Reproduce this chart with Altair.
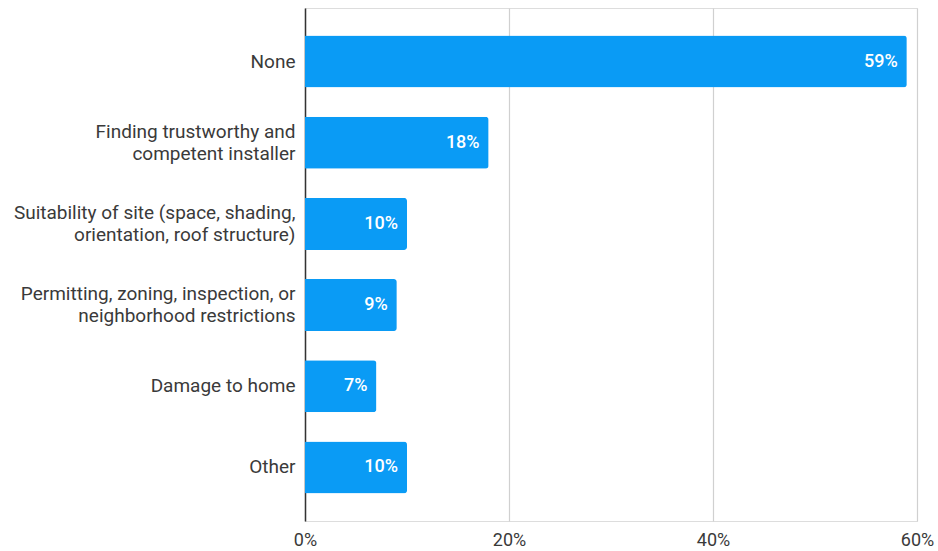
import altair as alt
import pandas as pd

categories = [
    "None",
    "Finding trustworthy and|competent installer",
    "Suitability of site (space, shading,|orientation, roof structure)",
    "Permitting, zoning, inspection, or|neighborhood restrictions",
    "Damage to home",
    "Other",
]
values = [0.59, 0.18, 0.10, 0.09, 0.07, 0.10]
labels = ["59%", "18%", "10%", "9%", "7%", "10%"]

df = pd.DataFrame({"cat": categories, "val": values, "lab": labels})

FONT = "Roboto"
BLUE = "#0a9bf5"

y_enc = alt.Y(
    "cat:N",
    sort=categories,
    title=None,
    scale=alt.Scale(paddingInner=0.36, paddingOuter=0.34),
    axis=alt.Axis(
        labelExpr="split(datum.label, '|')",
        labelFont=FONT,
        labelFontSize=19,
        labelColor="#3a3a3a",
        labelPadding=10,
        labelLineHeight=22,
        labelOffset={
            "condition": {"test": "indexof(datum.label, '|') >= 0", "value": -11},
            "value": 0,
        },
        ticks=False,
        domain=True,
        domainColor="#333333",
        domainWidth=1.5,
        grid=False,
        labelLimit=400,
    ),
)

x_enc = alt.X(
    "val:Q",
    title=None,
    scale=alt.Scale(domain=[0, 0.6], nice=False),
    axis=alt.Axis(
        format=".0%",
        values=[0, 0.2, 0.4, 0.6],
        labelFont=FONT,
        labelFontSize=18,
        labelColor="#3a3a3a",
        labelPadding=10,
        labelFlush=False,
        ticks=False,
        domain=False,
        grid=True,
        gridColor="#d0d0d0",
        gridWidth=1.2,
    ),
)

bars = alt.Chart(df).mark_bar(color=BLUE, cornerRadiusEnd=3).encode(x=x_enc, y=y_enc)

text = alt.Chart(df).mark_text(
    align="right",
    baseline="middle",
    dx=-9,
    color="white",
    font=FONT,
    fontSize=18,
    fontWeight=500,
).encode(x="val:Q", y=alt.Y("cat:N", sort=categories), text="lab:N")

chart = (
    (bars + text)
    .properties(
        width=612,
        height=513,
        autosize=alt.AutoSizeParams(type="none"),
        padding={"left": 305, "top": 8, "right": 21, "bottom": 30},
    )
    .configure_view(stroke=None)
    .configure(background="white")
)

chart.save("out.html", embed_options={"renderer": "svg", "actions": False})
